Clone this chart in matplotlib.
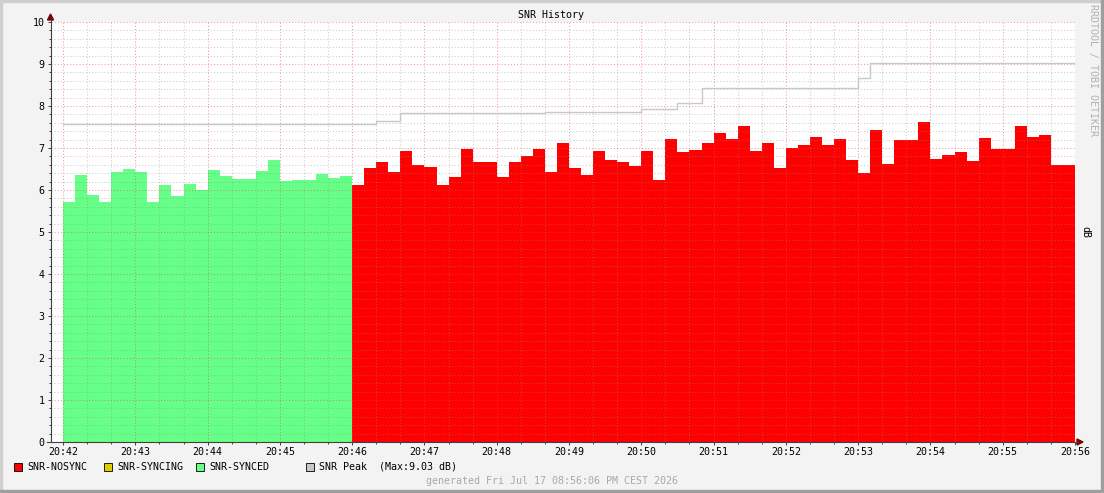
import numpy as np
import matplotlib
matplotlib.use("Agg")
import matplotlib.pyplot as plt
from matplotlib.patches import Rectangle, Polygon
from matplotlib.lines import Line2D

# data: one value per 10 s step, seconds counted from 20:42:00
step = 10
synced_start = 0
synced_db = [5.72, 6.36, 5.88, 5.72, 6.44, 6.50, 6.44, 5.72, 6.12, 5.86,
             6.14, 6.00, 6.48, 6.34, 6.26, 6.26, 6.46, 6.72, 6.22, 6.24,
             6.24, 6.38, 6.29, 6.34]
nosync_start = 240
nosync_db = [6.12, 6.52, 6.66, 6.44, 6.94, 6.60, 6.55, 6.12, 6.30, 6.98,
             6.66, 6.67, 6.31, 6.67, 6.82, 6.98, 6.42, 7.13, 6.52, 6.36,
             6.94, 6.72, 6.67, 6.58, 6.94, 6.24, 7.22, 6.90, 6.96, 7.11,
             7.36, 7.21, 7.53, 6.94, 7.13, 6.52, 6.99, 7.06, 7.27, 7.08,
             7.22, 6.72, 6.41, 7.44, 6.63, 7.20, 7.20, 7.63, 6.75, 6.84,
             6.91, 6.70, 7.25, 6.97, 6.97, 7.53, 7.27, 7.32, 6.60, 6.60]
peak_sec = [0, 260, 280, 400, 480, 510, 530, 660, 670, 840]
peak_db = [7.58, 7.64, 7.84, 7.86, 7.92, 8.08, 8.43, 8.67, 9.03, 9.03]
tick_labels = ["20:42", "20:43", "20:44", "20:45", "20:46", "20:47", "20:48",
               "20:49", "20:50", "20:51", "20:52", "20:53", "20:54", "20:55", "20:56"]
legend_names = ["SNR-NOSYNC", "SNR-SYNCING", "SNR-SYNCED", "SNR Peak  (Max:9.03 dB)"]
legend_colors = ["#FF0000", "#DDCC00", "#66FF88", "#C8C8C8"]

W, H = 1104, 493
FONT = "DejaVu Sans Mono"
FS = 7.2


def fx(px):
    return px / W


def fy(py):
    return 1 - py / H


fig = plt.figure(figsize=(W / 100, H / 100), dpi=100, facecolor="#F3F3F3")
ax = fig.add_axes([fx(51), fy(442), (1075 - 51) / W, (442 - 22) / H])
ax.set_facecolor("white")
ax.set_xlim(-10, 840)
ax.set_ylim(0, 10)

# filled areas
def area(start, vals, color):
    xs = start + step * np.arange(len(vals) + 1)
    ys = np.append(vals, vals[-1])
    ax.fill_between(xs, 0, ys, step="post", color=color, lw=0, zorder=1)

area(synced_start, synced_db, "#66FF88")
area(nosync_start, nosync_db, "#FF0000")
ax.plot(peak_sec, peak_db, drawstyle="steps-post", color="#C8C8C8", lw=1.0, zorder=3)

# grid on top of the areas, rrdtool style
ax.set_axisbelow(False)
ax.set_xticks(np.arange(0, 841, 60))
ax.set_xticks(np.arange(0, 841, 20), minor=True)
ax.set_xticklabels(tick_labels)
ax.set_yticks(np.arange(0, 11, 1))
ax.set_yticks(np.arange(0, 10.01, 0.2), minor=True)
ax.set_yticklabels([str(v) for v in range(11)])
ax.grid(which="minor", color="#8F8F8F", alpha=0.45, linestyle=(0, (1, 2)), lw=0.75)
ax.grid(which="major", color="#DE5050", alpha=0.55, linestyle=(0, (1, 2)), lw=0.75)
for s in ax.spines.values():
    s.set_visible(False)
ax.tick_params(which="major", length=2.2, width=0.7, color="#404040", pad=2.5)
ax.tick_params(which="minor", length=1.4, width=0.7, color="#404040")
ax.tick_params(axis="x", which="major", pad=1.5)
for lab in ax.get_xticklabels() + ax.get_yticklabels():
    lab.set_fontfamily(FONT)
    lab.set_fontsize(FS)

# axis lines and arrows
fig.add_artist(Line2D([fx(50.5), fx(50.5)], [fy(442), fy(19)], color="#404040", lw=0.8))
fig.add_artist(Line2D([fx(47), fx(1078)], [fy(442), fy(442)], color="#404040", lw=0.8))
fig.add_artist(Polygon([[fx(47.5), fy(20)], [fx(53.5), fy(20)], [fx(50.5), fy(14)]],
                       closed=True, color="#7F0000", transform=fig.transFigure))
fig.add_artist(Polygon([[fx(1077), fy(439)], [fx(1077), fy(445)], [fx(1083), fy(442)]],
                       closed=True, color="#7F0000", transform=fig.transFigure))

# texts
fig.text(fx(551), fy(15.5), "SNR History", ha="center", va="center",
         family=FONT, fontsize=FS)
fig.text(fx(1085), fy(232), "dB", rotation=270, ha="center", va="center",
         family=FONT, fontsize=FS)
fig.text(fx(1093), fy(4), "RRDTOOL / TOBI OETIKER", rotation=270, ha="center", va="top",
         family=FONT, fontsize=FS, color="#B0B0B0")
fig.text(fx(552), fy(481), "generated Fri Jul 17 08:56:06 PM CEST 2026", ha="center",
         va="center", family=FONT, fontsize=FS, color="#A8A8A8")

# legend
legend_x = [14, 104, 196, 306]
for x0, name, col in zip(legend_x, legend_names, legend_colors):
    fig.add_artist(Rectangle((fx(x0), fy(470.5)), 8 / W, 8 / H, facecolor=col,
                             edgecolor="black", lw=0.6, transform=fig.transFigure))
    fig.text(fx(x0 + 13), fy(466.5), name, ha="left", va="center",
             family=FONT, fontsize=FS)

# outer shading frame
fig.add_artist(Rectangle((0, fy(2)), 1, 2 / H, color="#CFCFCF", transform=fig.transFigure))
fig.add_artist(Rectangle((0, 0), 2 / W, 1, color="#CFCFCF", transform=fig.transFigure))
fig.add_artist(Rectangle((0, 0), 1, 3 / H, color="#9E9E9E", transform=fig.transFigure))
fig.add_artist(Rectangle((fx(1101), 0), 3 / W, 1, color="#9E9E9E", transform=fig.transFigure))

fig.savefig("out.png", dpi=100, facecolor=fig.get_facecolor())
